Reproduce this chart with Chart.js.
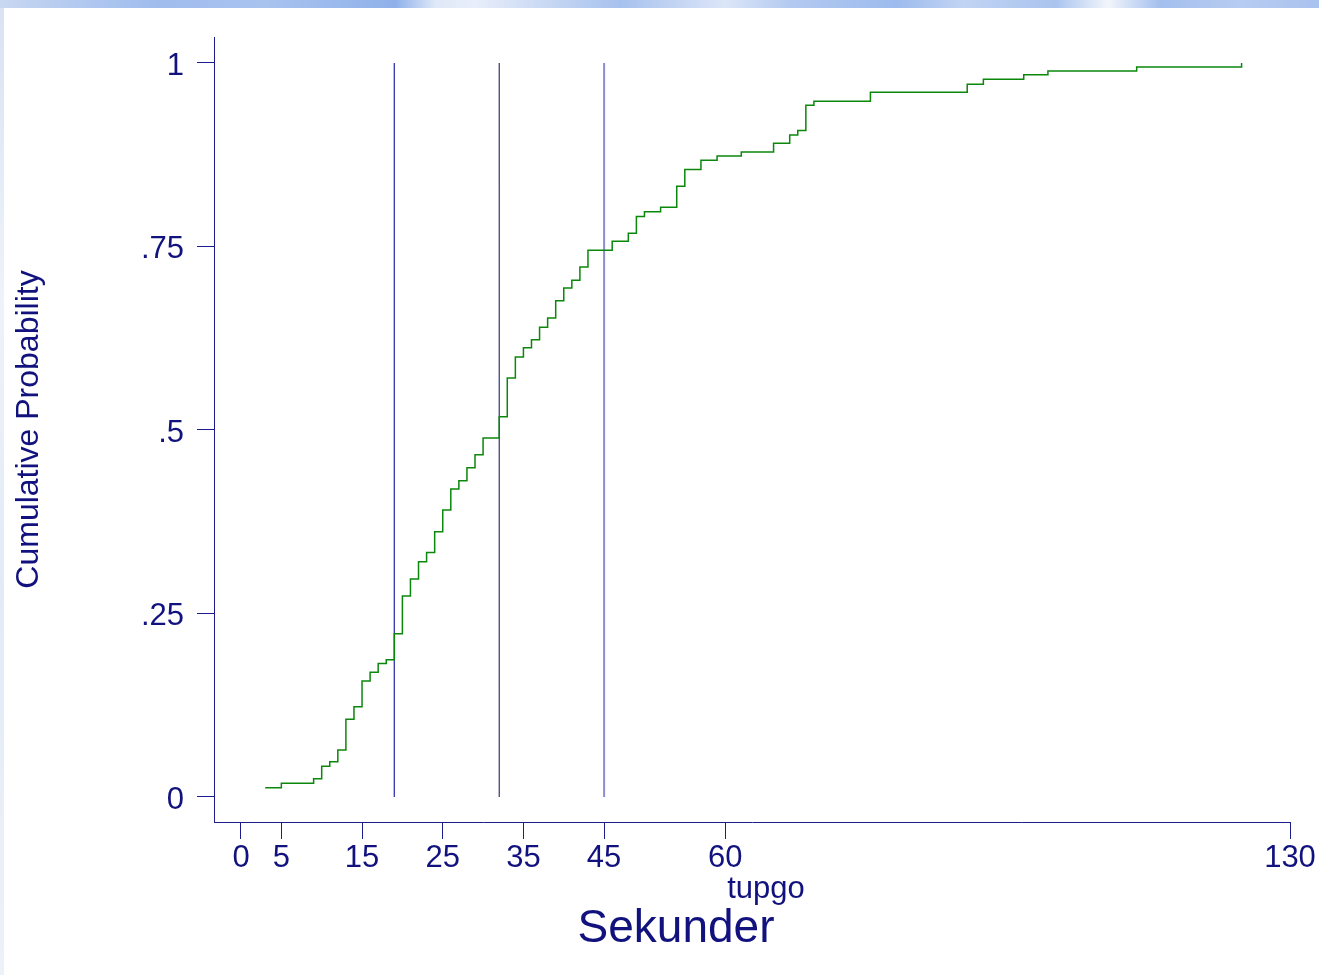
<!DOCTYPE html>
<html>
<head>
<meta charset="utf-8">
<title>Cumulative Probability – tupgo</title>
<script src="https://cdn.jsdelivr.net/npm/chart.js@4.4.1/dist/chart.umd.min.js"></script>
<style>
  html, body { margin: 0; padding: 0; background: #ffffff; }
  #wrap { position: relative; width: 1319px; height: 975px; overflow: hidden; background: #ffffff; }
  #topband {
    position: absolute; left: 0; top: 0; width: 1319px; height: 8px;
    background: linear-gradient(90deg,
      #c9d8f2 0%, #b9cdf0 4%, #9fbcee 12%, #a9c3ef 20%, #8fb1ea 30%, #dfe8f8 33%,
      #e8eefa 36%, #c5d6f3 42%, #a7c1ee 47%, #dce6f8 55%, #b3c9f0 60%, #9dbbee 68%,
      #c1d4f3 73%, #aac4ef 80%, #f2f5fb 84%, #a3bfee 88%, #b7ccf1 94%, #a9c2ee 100%);
  }
  #leftband {
    position: absolute; left: 0; top: 8px; width: 4px; height: 967px;
    background: linear-gradient(180deg, #d9e3f3 0%, #eef2f9 30%, #e3eaf6 60%, #edf1f8 100%);
  }
  canvas { position: absolute; left: 0; top: 0; }
</style>
</head>
<body>
<div id="wrap">
  <div id="topband"></div>
  <div id="leftband"></div>
  <canvas id="cdf" width="1319" height="975"></canvas>
</div>
<script>
// Empirical cumulative distribution of tupgo (seconds)
const stepSeconds = [3, 5, 9, 10, 11, 12, 13, 14, 15, 16, 17, 18, 19, 20, 21, 22, 23, 24, 25, 26,
  27, 28, 29, 30, 32, 33, 34, 35, 36, 37, 38, 39, 40, 41, 42, 43, 46, 48, 49, 50,
  52, 54, 55, 57, 59, 62, 66, 68, 69, 70, 71, 78, 90, 92, 97, 100, 111, 124];
const cumProb = [0.0127, 0.0186, 0.025, 0.042, 0.048, 0.064, 0.106, 0.123, 0.158, 0.170,
  0.182, 0.187, 0.2225, 0.274, 0.297, 0.3206, 0.333, 0.3615, 0.391, 0.4196,
  0.431, 0.4487, 0.4664, 0.489, 0.518, 0.571, 0.5995, 0.612, 0.623, 0.640,
  0.6526, 0.676, 0.6935, 0.704, 0.722, 0.745, 0.757, 0.768, 0.791, 0.7974,
  0.8034, 0.832, 0.855, 0.8674, 0.8733, 0.8787, 0.8906, 0.9019, 0.908, 0.9424,
  0.948, 0.960, 0.971, 0.978, 0.984, 0.989, 0.9946, 1.0];

// Reference lines (seconds): lower quartile, median, upper quartile
const markerSeconds = [19, 32, 45];

// Axis ticks
const xTickValues = [0, 5, 15, 25, 35, 45, 60, 130];
const yTickValues = [0, 0.25, 0.5, 0.75, 1];
const yTickLabels = ['0', '.25', '.5', '.75', '1'];

// Texts
const yTitle = 'Cumulative Probability';
const xVarName = 'tupgo';
const xCaption = 'Sekunder';

const FONT = '"Liberation Sans", Arial, Helvetica, sans-serif';
const NAVY = '#12127f';
const AXIS = '#1c1c8e';
const markerColors = ['#4040b6', '#0a0a5c', '#8c8cd0'];
const markerWidths = [1.4, 1, 2];

const cdfPoints = stepSeconds.map((s, i) => ({ x: s, y: cumProb[i] }));

const markerSets = markerSeconds.map((s, i) => ({
  type: 'line',
  data: [{ x: s, y: 0 }, { x: s, y: 1 }],
  borderColor: markerColors[i],
  borderWidth: markerWidths[i],
  pointRadius: 0,
  fill: false,
  order: 2
}));

const bottomTexts = {
  id: 'bottomTexts',
  afterDraw(chart) {
    const ctx = chart.ctx;
    ctx.save();
    ctx.fillStyle = NAVY;
    ctx.textAlign = 'center';
    ctx.textBaseline = 'alphabetic';
    ctx.font = '31px ' + FONT;
    ctx.fillText(xVarName, 766, 898);
    ctx.font = '46px ' + FONT;
    ctx.fillText(xCaption, 676, 942);
    ctx.restore();
  }
};

new Chart(document.getElementById('cdf'), {
  type: 'line',
  data: {
    datasets: [
      {
        data: cdfPoints,
        stepped: 'before',
        borderColor: '#0b870b',
        borderWidth: 1.5,
        pointRadius: 0,
        fill: false,
        order: 1
      },
      ...markerSets
    ]
  },
  options: {
    responsive: false,
    animation: false,
    events: [],
    layout: { padding: { top: 37, right: 29, bottom: 0, left: 0 } },
    plugins: {
      legend: { display: false },
      tooltip: { enabled: false },
      title: { display: false }
    },
    scales: {
      x: {
        type: 'linear',
        min: -3.346,
        max: 130,
        afterBuildTicks(scale) { scale.ticks = xTickValues.map(v => ({ value: v })); },
        afterFit(scale) { scale.height = 153; },
        ticks: {
          autoSkip: false,
          maxRotation: 0,
          padding: 1,
          color: NAVY,
          font: { family: FONT, size: 31 },
          callback: (v) => String(v)
        },
        grid: { drawOnChartArea: false, drawTicks: true, tickLength: 17, color: AXIS, lineWidth: 1 },
        border: { display: true, color: AXIS, width: 1 }
      },
      y: {
        type: 'linear',
        min: -0.03406,
        max: 1.0354,
        afterBuildTicks(scale) { scale.ticks = yTickValues.map(v => ({ value: v })); },
        afterFit(scale) { scale.width = 214; },
        ticks: {
          autoSkip: false,
          padding: 13,
          labelOffset: 3,
          color: NAVY,
          font: { family: FONT, size: 31 },
          callback: (v) => {
            const i = yTickValues.indexOf(v);
            return i >= 0 ? yTickLabels[i] : '';
          }
        },
        grid: { drawOnChartArea: false, drawTicks: true, tickLength: 17, color: AXIS, lineWidth: 1 },
        border: { display: true, color: AXIS, width: 1 },
        title: {
          display: true,
          text: yTitle,
          color: NAVY,
          font: { family: FONT, size: 32 },
          padding: { top: 10, bottom: 0 }
        }
      }
    }
  },
  plugins: [bottomTexts]
});
</script>
</body>
</html>
